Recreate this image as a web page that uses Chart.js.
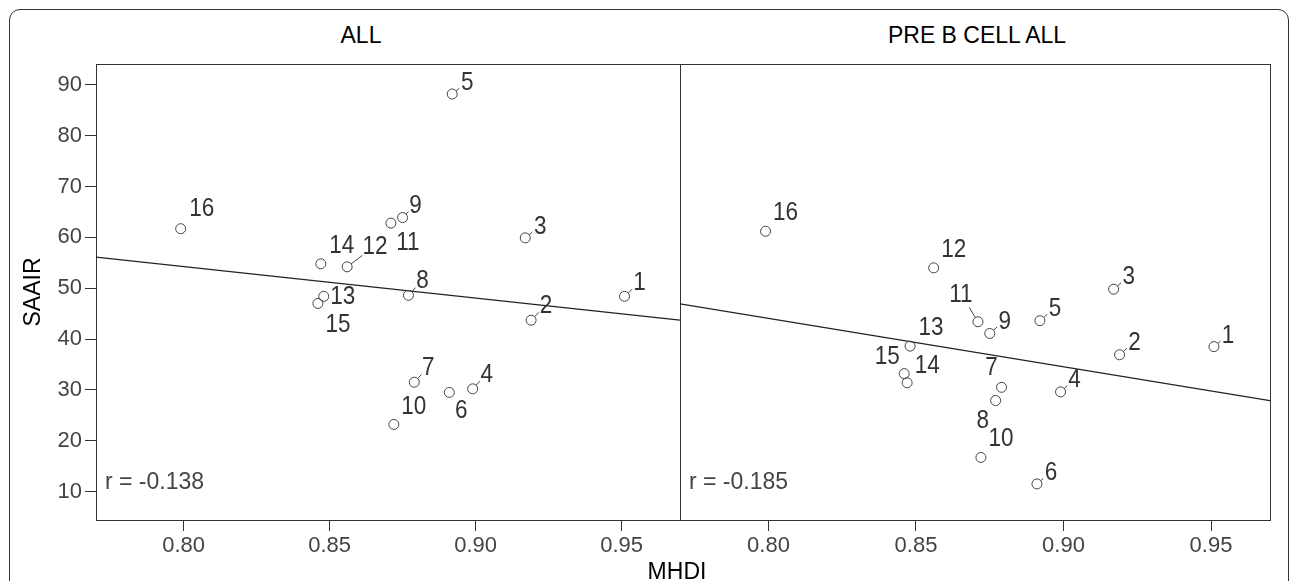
<!doctype html>
<html lang="en">

<head>
    <meta charset="utf-8">
    <title>SAAIR vs MHDI</title>
    <script src="https://cdn.jsdelivr.net/npm/chart.js@4.4.1/dist/chart.umd.min.js"></script>
    <style>
        html, body { margin: 0; padding: 0; background: #fff; overflow: hidden; }
        #wrap { position: relative; width: 1293px; height: 581px; font-family: Arial, "Liberation Sans", sans-serif; }
        #frame { position: absolute; left: 9px; top: 9px; width: 1278px; height: 640px; border: 1px solid #333; border-radius: 11px; }
        .panel-title { position: absolute; top: 24px; font-size: 23px; line-height: 23px; color: #000; transform: translateX(-50%); white-space: nowrap; }
        #x-title { position: absolute; left: 677px; top: 560px; font-size: 23px; line-height: 23px; color: #000; transform: translateX(-50%); }
        canvas { position: absolute; top: 0; }
        #chart-all { left: 0; }
        #chart-preb { left: 679px; }
    </style>
</head>

<body>
    <div id="wrap">
        <div id="frame"></div>
        <div class="panel-title" style="left: 361px;">ALL</div>
        <div class="panel-title" style="left: 977px;">PRE B CELL ALL</div>
        <canvas id="chart-all" width="682" height="581"></canvas>
        <canvas id="chart-preb" width="614" height="581"></canvas>
        <div id="x-title">MHDI</div>
    </div>

    <script>
        // region ids (point labels)
        const pointIds = ['1', '2', '3', '4', '5', '6', '7', '8', '9', '10', '11', '12', '13', '14', '15', '16'];
        // MHDI per region
        const mhdi = [0.951, 0.919, 0.917, 0.899, 0.892, 0.891, 0.879, 0.877, 0.875, 0.872, 0.871, 0.856, 0.848, 0.847, 0.846, 0.799];
        // SAAIR, all ALL cases
        const saairAll = [48.4, 43.7, 59.9, 30.2, 88.2, 29.5, 31.5, 48.6, 63.9, 23.2, 62.8, 54.2, 48.4, 54.8, 47.0, 61.7];
        // SAAIR, pre B cell ALL
        const saairPreB = [38.5, 36.9, 49.8, 29.6, 43.6, 11.5, 30.5, 27.9, 41.1, 16.7, 43.4, 54.0, 38.6, 31.4, 33.2, 61.2];
        // fitted lines (ends at the x axis limits)
        const fitX = [0.77, 0.97];
        const fitAll = [56.1, 43.7];
        const fitPreB = [46.9, 27.9];
        const rAll = -0.138;
        const rPreB = -0.185;
        const xTickValues = [0.80, 0.85, 0.90, 0.95];
        const yTickValues = [10, 20, 30, 40, 50, 60, 70, 80, 90];

        // label placement [dx, dy, leader line] per point, in px
        const labelPlaceAll = [
            [15, -14, 1], [15, -15, 1], [15, -12, 1], [14, -15, 1], [15, -12, 1], [12, 17, 0], [14, -15, 1], [14, -15, 1],
            [13, -13, 1], [20, -19, 0], [17, 19, 0], [28, -21, 1], [19, 0, 0], [21, -19, 0], [20, 20, 0], [21, -21, 0]
        ];
        const labelPlacePreB = [
            [14, -12, 1], [15, -13, 1], [15, -13, 1], [14, -13, 1], [15, -13, 1], [14, -12, 1], [-10, -20, 0], [-13, 19, 0],
            [15, -13, 1], [20, -20, 0], [-17, -28, 1], [20, -19, 0], [21, -19, 0], [20, -18, 0], [-17, -18, 0], [20, -19, 0]
        ];

        const FONT = 'Arial, "Liberation Sans", sans-serif';
        const POINT_R = 5;

        const boxPlugin = {
            id: 'panelBox',
            beforeDatasetsDraw(chart) {
                const { ctx, chartArea: a } = chart;
                ctx.save();
                ctx.strokeStyle = '#333';
                ctx.lineWidth = 1;
                ctx.strokeRect(Math.round(a.left) + 0.5, Math.round(a.top) + 0.5, Math.round(a.right - a.left), Math.round(a.bottom - a.top));
                ctx.restore();
            }
        };

        const labelPlugin = {
            id: 'pointLabels',
            afterDatasetsDraw(chart, args, opts) {
                const { ctx, chartArea: a } = chart;
                const meta = chart.getDatasetMeta(0);
                ctx.save();
                ctx.strokeStyle = '#444';
                ctx.fillStyle = '#333';
                ctx.lineWidth = 1;
                ctx.font = '26px ' + FONT;
                ctx.textAlign = 'center';
                ctx.textBaseline = 'middle';
                meta.data.forEach((pt, i) => {
                    const [dx, dy, lead] = opts.place[i];
                    if (lead) {
                        const d = Math.hypot(dx, dy), ux = dx / d, uy = dy / d;
                        const half = pointIds[i].length > 1 ? 12 : 6;
                        const end = Math.max(POINT_R + 3, d - half - 4);
                        ctx.beginPath();
                        ctx.moveTo(pt.x + ux * POINT_R, pt.y + uy * POINT_R);
                        ctx.lineTo(pt.x + ux * end, pt.y + uy * end);
                        ctx.stroke();
                    }
                    ctx.save();
                    ctx.translate(pt.x + dx, pt.y + dy);
                    ctx.scale(0.865, 1);
                    ctx.fillText(pointIds[i], 0, 1);
                    ctx.restore();
                });
                // correlation coefficient
                ctx.font = '23px ' + FONT;
                ctx.fillStyle = '#444';
                ctx.textAlign = 'left';
                ctx.fillText('r = ' + opts.r.toFixed(3), a.left + 9, a.bottom - 37);
                ctx.restore();
            }
        };

        function makeChart(canvasId, values, fit, r, place, showY, padding) {
            const ctx = document.getElementById(canvasId).getContext('2d');
            return new Chart(ctx, {
                type: 'scatter',
                data: {
                    datasets: [{
                        data: mhdi.map((x, i) => ({ x: x, y: values[i] })),
                        pointRadius: POINT_R,
                        pointHoverRadius: POINT_R,
                        pointBorderColor: '#444',
                        pointBackgroundColor: 'rgba(255,255,255,0)',
                        pointBorderWidth: 1
                    }, {
                        type: 'line',
                        data: fitX.map((x, i) => ({ x: x, y: fit[i] })),
                        borderColor: '#222',
                        borderWidth: 1.3,
                        pointRadius: 0,
                        fill: false
                    }]
                },
                options: {
                    responsive: false,
                    animation: false,
                    devicePixelRatio: 1,
                    layout: { padding: padding, autoPadding: false },
                    plugins: {
                        legend: { display: false },
                        tooltip: { enabled: false },
                        pointLabels: { place: place, r: r }
                    },
                    scales: {
                        x: {
                            type: 'linear',
                            min: 0.77,
                            max: 0.97,
                            afterBuildTicks: scale => { scale.ticks = xTickValues.map(v => ({ value: v })); },
                            afterFit: scale => {
                                scale.height = 61;
                                scale.paddingLeft = 0;
                                scale.paddingRight = 0;
                            },
                            ticks: {
                                callback: v => Number(v).toFixed(2),
                                font: { size: 22, family: FONT },
                                color: '#444',
                                padding: 2,
                                autoSkip: false,
                                maxRotation: 0
                            },
                            grid: { drawOnChartArea: false, drawTicks: true, tickLength: 11, color: '#333', lineWidth: 1 },
                            border: { display: false }
                        },
                        y: {
                            type: 'linear',
                            display: showY,
                            min: 4.4,
                            max: 94.1,
                            afterBuildTicks: scale => { scale.ticks = yTickValues.map(v => ({ value: v })); },
                            afterFit: scale => {
                                scale.width = showY ? 96 : 0;
                                scale.paddingTop = 0;
                                scale.paddingBottom = 0;
                            },
                            ticks: {
                                font: { size: 22, family: FONT },
                                color: '#444',
                                padding: 3
                            },
                            grid: { drawOnChartArea: false, drawTicks: true, tickLength: 11, color: '#333', lineWidth: 1 },
                            border: { display: false },
                            title: {
                                display: true,
                                text: 'SAAIR',
                                color: '#000',
                                font: { size: 23, family: FONT },
                                padding: { top: 20, bottom: 0 }
                            }
                        }
                    }
                },
                plugins: [boxPlugin, labelPlugin]
            });
        }

        makeChart('chart-all', saairAll, fitAll, rAll, labelPlaceAll, true, { left: 0, right: 2, top: 64, bottom: 0 });
        makeChart('chart-preb', saairPreB, fitPreB, rPreB, labelPlacePreB, false, { left: 1, right: 23, top: 64, bottom: 0 });
    </script>
</body>

</html>
